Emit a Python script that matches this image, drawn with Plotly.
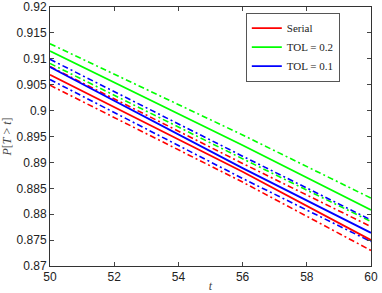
import plotly.graph_objects as go

t = [50, 56, 60]

serial = [0.9069, 0.8882, 0.8750]
serial_hi = [0.9085, 0.8898, 0.8776]
serial_lo = [0.9049, 0.8862, 0.8730]

tol02 = [0.9115, 0.8933, 0.8808]
tol02_hi = [0.9129, 0.8953, 0.8831]
tol02_lo = [0.9091, 0.8907, 0.8786]

tol01 = [0.9084, 0.8889, 0.8764]
tol01_hi = [0.9099, 0.8912, 0.8789]
tol01_lo = [0.9060, 0.8869, 0.8747]

names = ["Serial", "TOL = 0.2", "TOL = 0.1"]
colors = ["#ff0000", "#00ff00", "#0000ff"]

ytickvals = [0.87, 0.875, 0.88, 0.885, 0.89, 0.895, 0.9, 0.905, 0.91, 0.915, 0.92]
yticktext = ["0.87", "0.875", "0.88", "0.885", "0.89", "0.895", "0.9", "0.905", "0.91", "0.915", "0.92"]
xtickvals = [50, 52, 54, 56, 58, 60]

fig = go.Figure()
series = [(serial, serial_hi, serial_lo), (tol02, tol02_hi, tol02_lo), (tol01, tol01_hi, tol01_lo)]
for (mid, hi, lo), c in zip(series, colors):
    for band in (hi, lo):
        fig.add_trace(go.Scatter(x=t, y=band, mode="lines", showlegend=False,
                                 line=dict(color=c, width=1.6, dash="6px,3px,2px,3px")))
for (mid, hi, lo), c, n in zip(series, colors, names):
    fig.add_trace(go.Scatter(x=t, y=mid, mode="lines", name=n,
                             line=dict(color=c, width=1.8)))

fig.update_layout(
    width=382, height=293,
    margin=dict(l=50, r=11, t=7, b=27, autoexpand=False),
    paper_bgcolor="white", plot_bgcolor="white",
    font=dict(family="Liberation Sans, Arial", size=12, color="#222"),
    legend=dict(x=0.61, y=0.978, xanchor="left", yanchor="top",
                bgcolor="white", bordercolor="#555", borderwidth=1,
                font=dict(family="Liberation Serif, serif", size=11, color="#222"),
                tracegroupgap=0, itemwidth=30),
    showlegend=True,
)
fig.update_xaxes(range=[50, 60], tickvals=xtickvals, ticks="inside", ticklen=4,
                 showline=True, linecolor="#333", linewidth=1, mirror="ticks",
                 showgrid=False, zeroline=False, automargin=False,
                 title=dict(text="<i>t</i>", font=dict(family="Liberation Serif, serif", size=12, color="#444"), standoff=0))
fig.update_yaxes(range=[0.87, 0.92], tickvals=ytickvals, ticktext=yticktext, ticks="inside", ticklen=4,
                 showline=True, linecolor="#333", linewidth=1, mirror="ticks",
                 showgrid=False, zeroline=False, automargin=False,
                 title=dict(text="<i>P</i>[<i>T</i> &gt; <i>t</i>]", font=dict(family="Liberation Serif, serif", size=12, color="#444"), standoff=4))

fig.write_html("out.html", config={"displayModeBar": False},
               post_script="document.body.style.margin='0';")
